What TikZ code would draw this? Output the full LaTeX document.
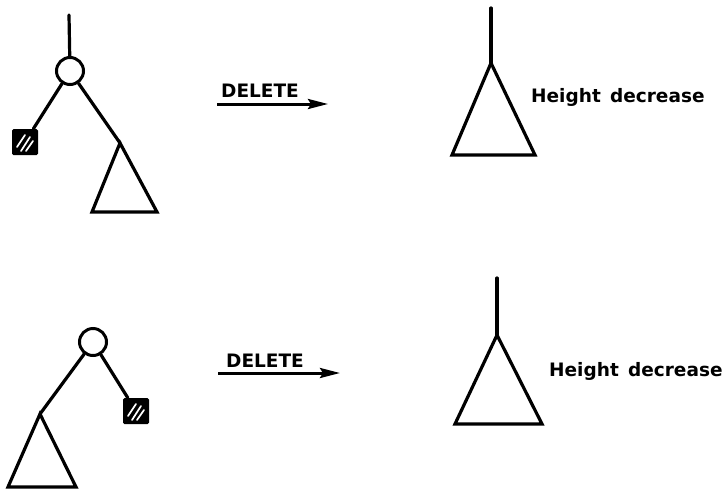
\documentclass[tikz,border=0pt]{standalone}
\usepackage{fontspec}
\setmainfont{DejaVu Sans}
\usetikzlibrary{arrows.meta}
\begin{document}
\begin{tikzpicture}[x=1pt,y=-1pt,
  edge/.style={line width=3.2pt,line cap=round,line join=round},
  treenode/.style={circle,draw,line width=3pt,minimum size=27pt,inner sep=0pt},
  leafbox/.style={rectangle,fill=black,rounded corners=1.5pt,minimum size=26pt,inner sep=0pt},
  hatch/.style={white,line width=1.7pt,line cap=round},
  subtree/.style={line width=3.2pt,line join=miter},
  lbl/.style={font=\bfseries\fontsize{18.5}{22}\selectfont,inner sep=0pt},
  oparrow/.style={line width=3pt,-{Stealth[length=20pt,width=10pt,inset=3pt]}}]
\useasboundingbox (0,0) rectangle (727,490);

% ---------- top left tree ----------
\coordinate (t1top) at (69,15);
\node[treenode] (c1) at (70,71) {};
\node[leafbox] (s1) at (25,142) {};
\draw[hatch] ([shift={(-8,5)}]s1.center) -- ([shift={(0,-7)}]s1.center);
\draw[hatch] ([shift={(-4,9)}]s1.center) -- ([shift={(5,-5)}]s1.center);
\draw[hatch] ([shift={(1,9)}]s1.center) -- ([shift={(8,-1)}]s1.center);
\coordinate (a1) at (120,143);
\coordinate (b1l) at (92,212);
\coordinate (b1r) at (157,212);
\draw[edge] (t1top) -- (c1);
\draw[edge] (c1) -- (s1);
\draw[edge] (c1) -- (a1);
\draw[subtree] (a1) -- (b1l) -- (b1r) -- cycle;

% ---------- top arrow ----------
\coordinate (d1s) at (217,104);
\coordinate (d1e) at (328,104);
\draw[oparrow] (d1s) -- (d1e);
\node[lbl,anchor=base west] (del1) at (221,97) {DELETE};

% ---------- top right result ----------
\coordinate (r1top) at (491,8);
\coordinate (ra1) at (491,63);
\coordinate (rb1l) at (452,155);
\coordinate (rb1r) at (535,155);
\draw[edge] (r1top) -- (ra1);
\draw[subtree] (ra1) -- (rb1l) -- (rb1r) -- cycle;
\node[lbl,anchor=base west] (h1) at (531,102) {Height\hspace{0.5em}decrease};

% ---------- bottom left tree ----------
\node[treenode] (c2) at (93,342) {};
\node[leafbox] (s2) at (136,411) {};
\draw[hatch] ([shift={(-8,5)}]s2.center) -- ([shift={(0,-7)}]s2.center);
\draw[hatch] ([shift={(-4,9)}]s2.center) -- ([shift={(5,-5)}]s2.center);
\draw[hatch] ([shift={(1,9)}]s2.center) -- ([shift={(8,-1)}]s2.center);
\coordinate (a2) at (40,414);
\coordinate (b2l) at (8,487);
\coordinate (b2r) at (76,487);
\draw[edge] (c2) -- (s2);
\draw[edge] (c2) -- (a2);
\draw[subtree] (a2) -- (b2l) -- (b2r) -- cycle;

% ---------- bottom arrow ----------
\coordinate (d2s) at (218,373);
\coordinate (d2e) at (340,373);
\draw[oparrow] (d2s) -- (d2e);
\node[lbl,anchor=base west] (del2) at (226,367) {DELETE};

% ---------- bottom right result ----------
\coordinate (r2top) at (497,278);
\coordinate (ra2) at (497,335);
\coordinate (rb2l) at (455,424);
\coordinate (rb2r) at (542,424);
\draw[edge] (r2top) -- (ra2);
\draw[subtree] (ra2) -- (rb2l) -- (rb2r) -- cycle;
\node[lbl,anchor=base west] (h2) at (549,376) {Height\hspace{0.5em}decrease};
\end{tikzpicture}
\end{document}
